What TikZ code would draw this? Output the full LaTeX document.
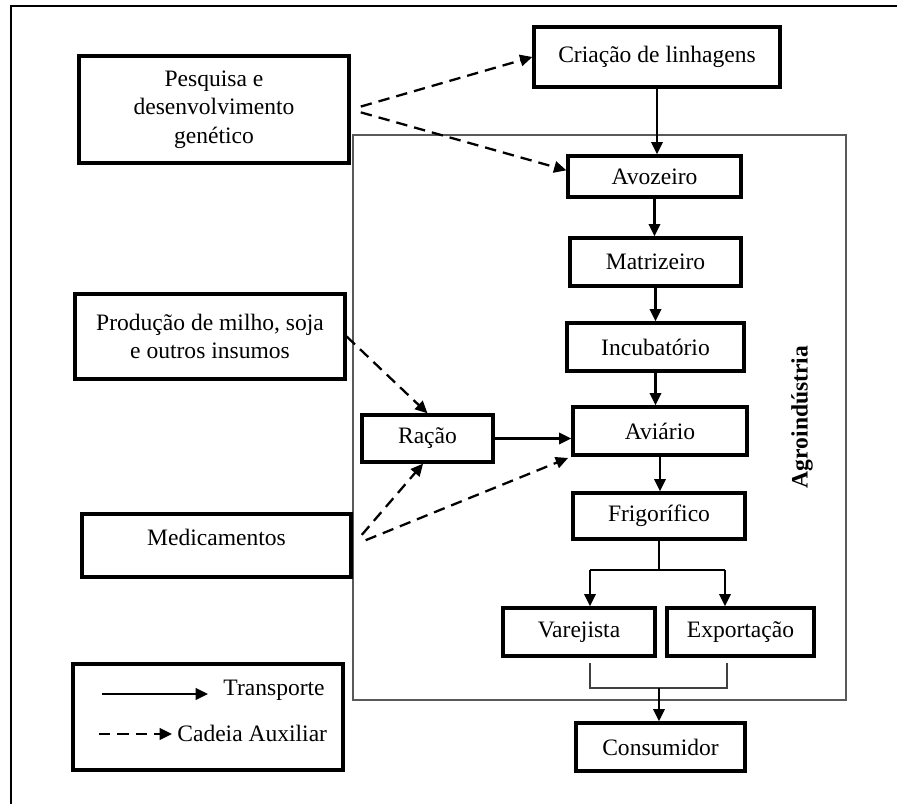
\documentclass[tikz,border=0pt]{standalone}
\usepackage{fontspec}
\setmainfont{Liberation Serif}
\usetikzlibrary{arrows.meta}

\tikzset{
  box/.style={draw, line width=1.9pt, align=center, inner sep=2pt, font=\fontsize{13.4}{16.2}\selectfont},
  lbl/.style={inner sep=0pt, font=\fontsize{13.4}{16.2}\selectfont},
  flow/.style={line width=1.3pt, -{Triangle[length=7pt,width=6.5pt]}},
  aux/.style={flow, dash pattern=on 6.5pt off 4pt},
  thin/.style={line width=0.8pt, draw=black!65}
}

\begin{document}
\begin{tikzpicture}[x=0.02cm, y=-0.02cm]
\useasboundingbox (0,0) rectangle (897,804);
\draw[line width=1.2pt] (11,804) -- (11,6) -- (897,6);
\draw[thin] (353,135) rectangle (846,700);
\node[lbl, rotate=90, font=\fontsize{13.4}{16.2}\selectfont\bfseries] (agro) at (802,417) {Agroindústria};

\node[box, minimum width=5.4cm, minimum height=2.14cm] (pesq) at (214,109.5) {Pesquisa e\\desenvolvimento\\genético};
\node[box, minimum width=5.4cm, minimum height=1.7cm] (prod) at (210,336.5) {Produção de milho, soja\\e outros insumos};
\node[box, minimum width=5.38cm, minimum height=1.26cm, text depth=0.34cm] (medic) at (216.5,545.5) {Medicamentos};

\node[box, minimum width=4.92cm, minimum height=1.2cm] (criacao) at (657,57) {Criação de linhagens};
\node[box, minimum width=3.46cm, minimum height=0.82cm] (avoz) at (654.5,176.5) {Avozeiro};
\node[box, minimum width=3.42cm, minimum height=0.96cm] (matriz) at (655.5,262) {Matrizeiro};
\node[box, minimum width=3.54cm, minimum height=0.96cm] (incub) at (655.5,347) {Incubatório};
\node[box, minimum width=3.48cm, minimum height=0.96cm] (aviario) at (660,431) {Aviário};
\node[box, minimum width=3.44cm, minimum height=0.92cm] (frigo) at (659,516) {Frigorífico};
\node[box, minimum width=3.04cm, minimum height=0.96cm] (varej) at (579,632) {Varejista};
\node[box, minimum width=2.94cm, minimum height=0.96cm] (export) at (740.5,632) {Exportação};
\node[box, minimum width=3.38cm, minimum height=0.96cm] (consum) at (660.5,747) {Consumidor};
\node[box, minimum width=2.62cm, minimum height=0.94cm] (racao) at (427.5,438.5) {Ração};

\draw[aux, shorten <=6pt] (pesq.east) -- (criacao.west);
\draw[aux, shorten <=6pt] (pesq.east) -- (avoz.176);
\draw[aux] (prod.east) -- (racao.north);
\draw[aux, shorten <=8pt] (medic.east) -- (racao.-100);
\draw[aux, shorten <=8pt, shorten >=2pt] (medic.east) -- (aviario.south west);

\draw[flow] (criacao.south) -- (criacao.south |- avoz.north);
\draw[flow] (avoz.south) -- (avoz.south |- matriz.north);
\draw[flow] (matriz.south) -- (matriz.south |- incub.north);
\draw[flow] (incub.south) -- (incub.south |- aviario.north);
\draw[flow] (racao.east) -- (racao.east -| aviario.west);
\draw[flow] (aviario.south) -- (aviario.south |- frigo.north);

\coordinate (s) at (659,570);
\coordinate (sL) at (590,570);
\coordinate (sR) at (725,570);
\draw[line width=1.3pt] (frigo.south) -- (s);
\draw[line width=1.3pt] (sL) -- (sR);
\draw[flow] (sL) -- (sL |- varej.north);
\draw[flow] (sR) -- (sR |- export.north);

\coordinate (j) at (659,688);
\draw[line width=1.2pt, draw=black!75] (590,663) -- (590,688) -- (727,688) -- (727,663);
\draw[flow] (j) -- (j |- consum.north);

\node[box, minimum width=5.4cm, minimum height=2.12cm] (leg) at (208,717) {};
\coordinate (t1) at (102,694);
\coordinate (t2) at (208,694);
\coordinate (c1) at (99,734);
\coordinate (c2) at (172,734);
\draw[flow] (t1) -- (t2);
\draw[aux] (c1) -- (c2);
\node[lbl, anchor=base east] (transp) at (325,695) {Transporte};
\node[lbl, anchor=base west] (cadeia) at (177,741) {Cadeia Auxiliar};
\end{tikzpicture}
\end{document}
